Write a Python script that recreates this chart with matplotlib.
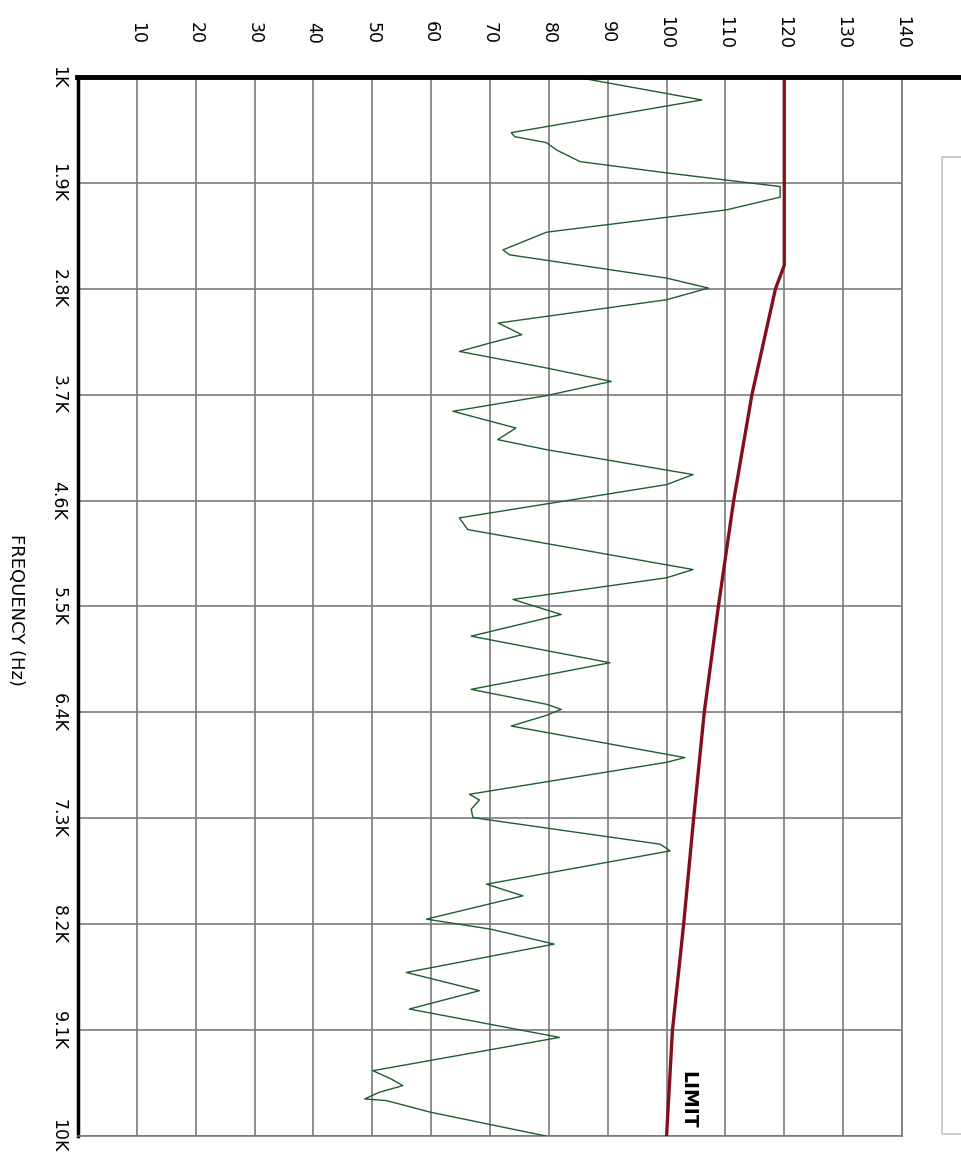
import matplotlib.pyplot as plt
from matplotlib.lines import Line2D
from matplotlib.patches import Rectangle

# amplitude ticks (drawn along the top) and frequency ticks (down the left side)
db_ticks = [10, 20, 30, 40, 50, 60, 70, 80, 90, 100, 110, 120, 130, 140]
freq_ticks = [1000, 1900, 2800, 3700, 4600, 5500, 6400, 7300, 8200, 9100, 10000]
freq_labels = ["1K", "1.9K", "2.8K", "3.7K", "4.6K", "5.5K", "6.4K", "7.3K", "8.2K", "9.1K", "10K"]

trace_hz = [1000, 1195, 1473, 1507, 1558, 1620, 1719, 1815, 1931, 2021, 2129, 2319, 2469, 2511,
            2709, 2794, 2893, 3091, 3190, 3258, 3332, 3473, 3587, 3708, 3841, 3983, 4082, 4167,
            4379, 4464, 4747, 4846, 5186, 5256, 5440, 5568, 5752, 5978, 6204, 6331, 6374, 6425,
            6516, 6784, 6824, 7096, 7144, 7223, 7294, 7520, 7577, 7860, 7959, 8157, 8242, 8369,
            8610, 8765, 8921, 9162, 9445, 9515, 9572, 9628, 9685, 9699, 9798, 10000]
trace_db = [84.5, 106.0, 73.6, 74.2, 79.6, 81.3, 85.3, 100.0, 119.3, 119.3, 110.2, 79.6, 72.2, 73.3,
            100.0, 107.1, 100.0, 71.4, 75.4, 70.2, 64.8, 79.6, 90.6, 79.6, 63.7, 74.4, 71.3, 79.6,
            104.5, 100.0, 64.8, 66.2, 104.5, 100.0, 73.9, 82.1, 66.8, 90.4, 66.8, 79.6, 82.1, 79.6,
            73.6, 103.1, 100.0, 66.5, 68.2, 66.8, 67.1, 98.9, 100.6, 69.4, 75.6, 59.2, 70.1, 80.9,
            55.8, 68.2, 56.3, 81.8, 50.1, 53.2, 55.2, 51.2, 48.7, 52.4, 59.9, 79.5]

# limit line
limit_hz = [1000, 2600, 2800, 3700, 4600, 5500, 6400, 7300, 8200, 9100, 10000]
limit_db = [120, 120, 118.5, 114.5, 111.4, 108.8, 106.4, 104.6, 102.9, 101.0, 100.0]

W, H = 962, 1158
fig = plt.figure(figsize=(W / 100, H / 100), dpi=100)
fig.patch.set_facecolor("white")
ax_l, ax_r, ax_t, ax_b = 78, 902, 77, 1136
ax = fig.add_axes([ax_l / W, 1 - ax_b / H, (ax_r - ax_l) / W, (ax_b - ax_t) / H])

ax.plot(trace_db, trace_hz, color="#1e5e2e", lw=1.0, zorder=3)
ax.plot(limit_db, limit_hz, color="#840f1c", lw=2.4, zorder=4)

ax.set_xlim(0, 140)
ax.set_ylim(10000, 1000)

ax.set_xticks(db_ticks)
ax.set_xticklabels([str(v) for v in db_ticks])
ax.xaxis.tick_top()
ax.tick_params(axis="x", length=0, pad=32, labelrotation=-90, labelsize=12.5)
for t in ax.get_xticklabels():
    t.set_va("center")

ax.set_yticks(freq_ticks)
ax.set_yticklabels(freq_labels)
ax.tick_params(axis="y", length=0, pad=14, labelrotation=-90, labelsize=12.5)
for t in ax.get_yticklabels():
    t.set_va("center")
    t.set_ha("center")

ax.grid(True, color="#7a7a7a", lw=1.2)
ax.set_axisbelow(True)

ax.spines["left"].set_linewidth(2.5)
ax.spines["left"].set_color("black")
ax.spines["top"].set_visible(False)
for s in ["right", "bottom"]:
    ax.spines[s].set_color("#7a7a7a")
    ax.spines[s].set_linewidth(1.2)

# thick black line across the top, running past the plot to the edge
fig.add_artist(Line2D([ax_l / W - 0.001, 1.0], [1 - ax_t / H, 1 - ax_t / H],
                      color="black", lw=3.5, transform=fig.transFigure))

ax.text(103.6, 9690, "LIMIT", rotation=-90, ha="center", va="center",
        fontsize=13.5, fontweight="bold", color="black", zorder=5)

fig.text(16 / W, 1 - 610 / H, "FREQUENCY (Hz)", rotation=-90, ha="center", va="center", fontsize=13)

# empty legend frame on the right
fig.add_artist(Rectangle((942 / W, 1 - 1134 / H), 1.0, (1134 - 157) / H, fill=False,
                         edgecolor="#c4c4c4", lw=1.2, transform=fig.transFigure, clip_on=False))

fig.savefig("out.png", dpi=100)
